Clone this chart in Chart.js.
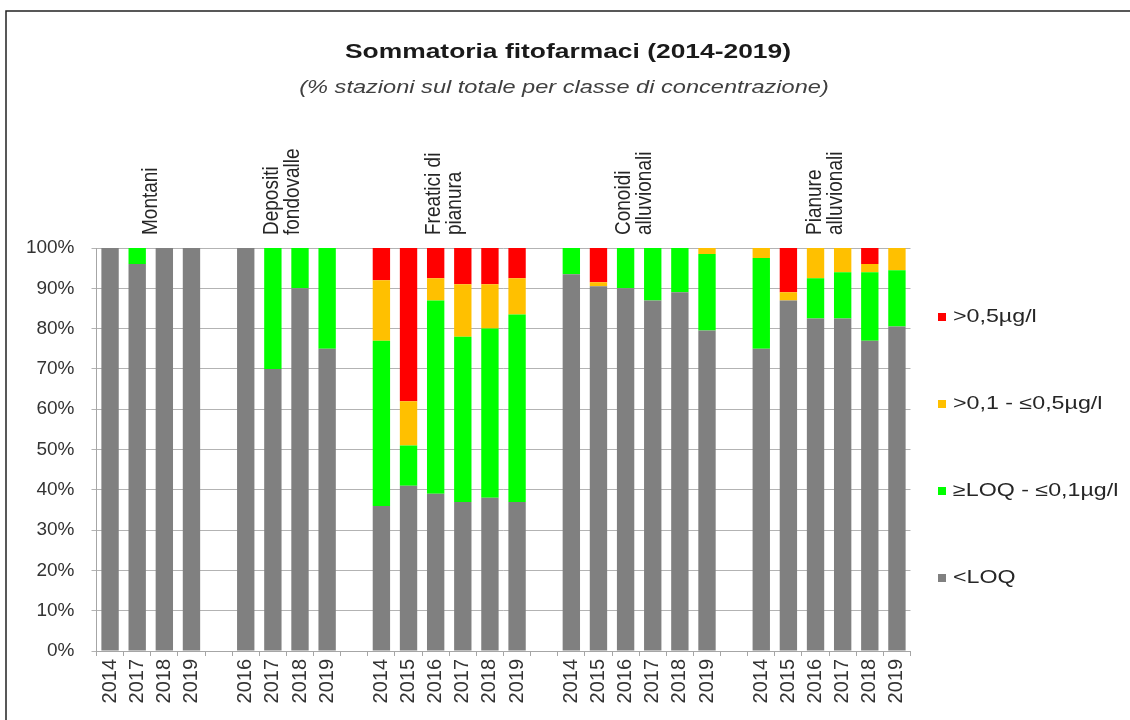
<!DOCTYPE html>
<html><head><meta charset="utf-8">
<script src="https://cdn.jsdelivr.net/npm/chart.js@4.4.1/dist/chart.umd.min.js"></script>
<style>html,body{margin:0;padding:0;background:#fff}#wrap{width:1130px;height:720px;position:relative}</style>
</head><body><div id="wrap"><canvas id="c" width="1130" height="720"></canvas></div>
<script>
// ---- DATA ----
const TITLE = 'Sommatoria fitofarmaci (2014-2019)';
const SUBTITLE = '(% stazioni sul totale per classe di concentrazione)';
const groupNames = [['Montani'], ['Depositi', 'fondovalle'], ['Freatici di', 'pianura'], ['Conoidi', 'alluvionali'], ['Pianure', 'alluvionali']];
const yearsMontani  = ['2014', '2017', '2018', '2019'];
const yearsDepositi = ['2016', '2017', '2018', '2019'];
const yearsFreatici = ['2014', '2015', '2016', '2017', '2018', '2019'];
const yearsConoidi  = ['2014', '2015', '2016', '2017', '2018', '2019'];
const yearsPianure  = ['2014', '2015', '2016', '2017', '2018', '2019'];

const seriesNames = ['<LOQ', '\u2265LOQ - \u22640,1\u00b5g/l', '>0,1 - \u22640,5\u00b5g/l', '>0,5\u00b5g/l'];

// <LOQ (%)
const ltLoqMontani  = [100, 96, 100, 100];
const ltLoqDepositi = [100, 70, 90, 75];
const ltLoqFreatici = [36, 41, 39, 37, 38, 37];
const ltLoqConoidi  = [93.5, 90.5, 90, 87, 89, 79.5];
const ltLoqPianure  = [75, 87, 82.5, 82.5, 77, 80.5];
// >=LOQ - <=0,1 (%)
const loqMontani  = [0, 4, 0, 0];
const loqDepositi = [0, 30, 10, 25];
const loqFreatici = [41, 10, 48, 41, 42, 46.5];
const loqConoidi  = [6.5, 0, 10, 13, 11, 19];
const loqPianure  = [22.5, 0, 10, 11.5, 17, 14];
// >0,1 - <=0,5 (%)
const midMontani  = [0, 0, 0, 0];
const midDepositi = [0, 0, 0, 0];
const midFreatici = [15, 11, 5.5, 13, 11, 9];
const midConoidi  = [0, 1, 0, 0, 0, 1.5];
const midPianure  = [2.5, 2, 7.5, 6, 2, 5.5];
// >0,5 (%)
const highMontani  = [0, 0, 0, 0];
const highDepositi = [0, 0, 0, 0];
const highFreatici = [8, 38, 7.5, 9, 9, 7.5];
const highConoidi  = [0, 8.5, 0, 0, 0, 0];
const highPianure  = [0, 11, 0, 0, 4, 0];

const yTicks = [0, 10, 20, 30, 40, 50, 60, 70, 80, 90, 100];

// ---- BUILD ----
const yearGroups = [yearsMontani, yearsDepositi, yearsFreatici, yearsConoidi, yearsPianure];
function flatten(groups) {
  const out = [];
  groups.forEach((g, i) => { g.forEach(v => out.push(v)); if (i < groups.length - 1) out.push(null); });
  return out;
}
const labels = flatten(yearGroups).map(v => v === null ? '' : v);
const groupCenters = [];
(function () { let s = 0; yearGroups.forEach(g => { groupCenters.push(s + (g.length - 1) / 2); s += g.length + 1; }); })();
const labelShift = [0, -4, -5, -5, -4];

const colors = ['#808080', '#00FF00', '#FFC000', '#FF0000'];
const dataSets = [
  flatten([ltLoqMontani, ltLoqDepositi, ltLoqFreatici, ltLoqConoidi, ltLoqPianure]),
  flatten([loqMontani, loqDepositi, loqFreatici, loqConoidi, loqPianure]),
  flatten([midMontani, midDepositi, midFreatici, midConoidi, midPianure]),
  flatten([highMontani, highDepositi, highFreatici, highConoidi, highPianure])
];

const FONT = '"Liberation Sans", Arial, sans-serif';

function drawStretched(ctx, text, x, y, font, sx, color, align) {
  ctx.save();
  ctx.font = font; ctx.fillStyle = color; ctx.textAlign = align || 'center'; ctx.textBaseline = 'middle';
  ctx.translate(x, y); ctx.scale(sx, 1); ctx.fillText(text, 0, 0);
  ctx.restore();
}

const decor = {
  id: 'decor',
  beforeDraw(chart) {
    const ctx = chart.ctx; ctx.save(); ctx.fillStyle = '#fff'; ctx.fillRect(0, 0, chart.width, chart.height); ctx.restore();
  },
  afterDraw(chart) {
    const ctx = chart.ctx, xs = chart.scales.x, area = chart.chartArea;
    ctx.save();
    ctx.strokeStyle = '#222'; ctx.lineWidth = 1.5;
    ctx.beginPath(); ctx.moveTo(6, 720); ctx.lineTo(6, 11); ctx.lineTo(1130, 11); ctx.stroke();
    ctx.restore();
    drawStretched(ctx, TITLE, 568, 52, 'bold 20px ' + FONT, 1.32, '#1a1a1a');
    drawStretched(ctx, SUBTITLE, 564, 88, 'italic 18px ' + FONT, 1.31, '#404040');
    // group labels (rotated)
    groupNames.forEach((lines, gi) => {
      const cx = xs.getPixelForValue(groupCenters[gi]) + labelShift[gi];
      lines.forEach((t, li) => {
        const x = cx + (li - (lines.length - 1) / 2) * 21;
        ctx.save();
        ctx.font = '19px ' + FONT; ctx.fillStyle = '#262626'; ctx.textAlign = 'left'; ctx.textBaseline = 'middle';
        ctx.translate(x, area.top - 13); ctx.scale(1.15, 1); ctx.rotate(-Math.PI / 2);
        ctx.fillText(t, 0, 0);
        ctx.restore();
      });
    });
    // legend
    const order = [3, 2, 1, 0];
    const mid = (area.top + area.bottom) / 2 - 2, gap = 87;
    order.forEach((di, k) => {
      const y = mid + (k - 1.5) * gap;
      ctx.save(); ctx.fillStyle = colors[di]; ctx.fillRect(938, y - 4, 8, 8); ctx.restore();
      drawStretched(ctx, seriesNames[di], 953, y, '18px ' + FONT, 1.29, '#262626', 'left');
    });
  }
};

new Chart(document.getElementById('c'), {
  type: 'bar',
  data: {
    labels: labels,
    datasets: dataSets.map((d, i) => ({ label: seriesNames[i], data: d, backgroundColor: colors[i], borderWidth: 0, stack: 's' }))
  },
  options: {
    responsive: false, animation: false, devicePixelRatio: 1,
    layout: { padding: { left: 0, right: 219.5, top: 248, bottom: 0 } },
    datasets: { bar: { categoryPercentage: 1, barPercentage: 0.64 } },
    plugins: { legend: { display: false }, tooltip: { enabled: false }, title: { display: false } },
    scales: {
      x: {
        stacked: true,
        grid: { display: true, drawOnChartArea: false, drawTicks: true, tickLength: 5, color: '#a6a6a6', offset: true },
        border: { color: '#a6a6a6' },
        ticks: { autoSkip: false, maxRotation: 90, minRotation: 90, color: '#333', padding: 3, font: { size: 20, family: FONT } },
        afterFit(s) { s.height = 69; }
      },
      y: {
        stacked: true, min: 0, max: 100,
        afterBuildTicks(s) { s.ticks = yTicks.map(v => ({ value: v })); },
        ticks: { callback: v => v + '%', color: '#333', padding: 17, font: { size: 19, family: FONT } },
        grid: { color: '#b3b3b3', tickLength: 5 },
        border: { color: '#a6a6a6' },
        afterFit(s) { s.width = 96.5; }
      }
    }
  },
  plugins: [decor]
});
</script>
</body></html>
